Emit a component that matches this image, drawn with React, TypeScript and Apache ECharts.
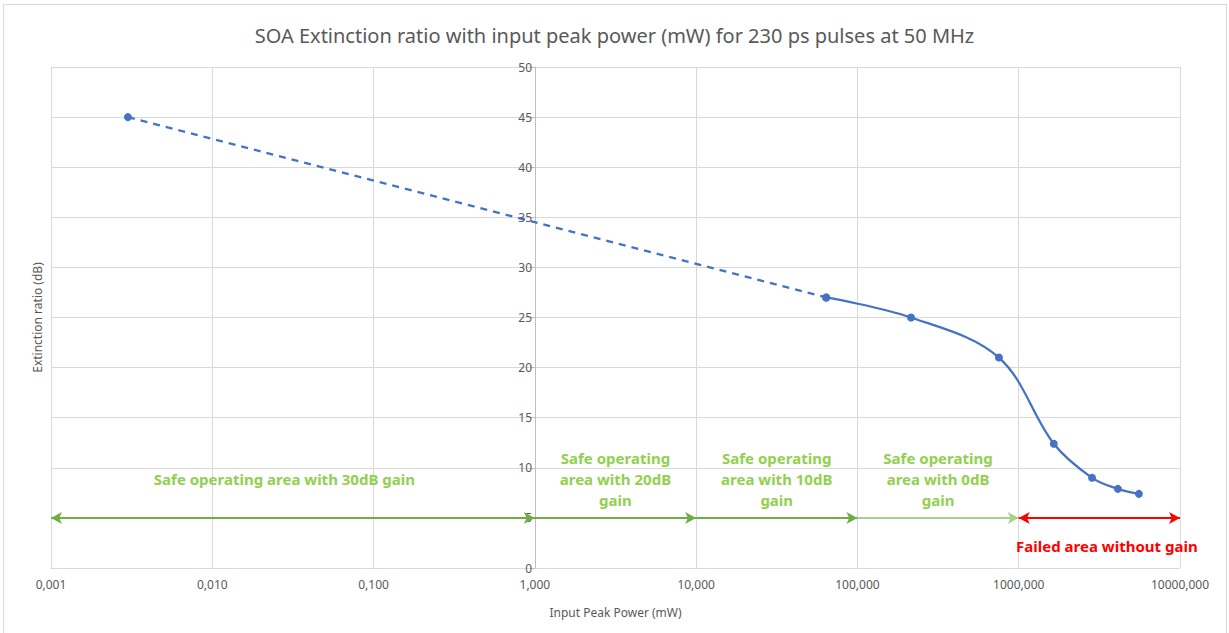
import React, { useEffect, useRef } from "react";
import * as echarts from "echarts";

const dashedX = [0.003, 64];
const dashedY = [45, 27];
const solidX = [64, 215, 754, 1650, 2850, 4120, 5560];
const solidY = [27, 25, 21, 12.4, 9.0, 7.9, 7.4];

const xTicks = [0.001, 0.01, 0.1, 1, 10, 100, 1000, 10000];

const zoneStart = [0.001, 1, 10, 100, 1000];
const zoneEnd = [1, 10, 100, 1000, 10000];
const zoneLevel = [5, 5, 5, 5, 5];
const zoneLabels = [
  "Safe operating area with 30dB gain",
  "Safe operating\narea with 20dB\ngain",
  "Safe operating\narea with 10dB\ngain",
  "Safe operating\narea with 0dB\ngain",
  "Failed area without gain",
];
const zoneLabelX = [0.028, 3.16, 31.6, 316, 3520];
const zoneLabelY = [8.9, 8.9, 8.9, 8.9, 2.2];

const FONT = '"Noto Sans", "Open Sans", sans-serif';

export default function App() {
  const ref = useRef<HTMLDivElement>(null);
  useEffect(() => {
    if (!ref.current) return;
    const chart = echarts.init(ref.current, null, { renderer: "svg" });
    const green = "#70AD47";
    const zoneColors = [green, green, green, "#A9D18E", "#FF0000"];
    const zoneSymbols = [
      ["arrow", "arrow"],
      ["none", "arrow"],
      ["none", "arrow"],
      ["none", "arrow"],
      ["arrow", "arrow"],
    ];
    const markLineData = zoneStart.map((s, i) => [
      {
        coord: [s, zoneLevel[i]],
        symbol: zoneSymbols[i][0],
        lineStyle: { color: zoneColors[i], width: 2, type: "solid" },
      },
      { coord: [zoneEnd[i], zoneLevel[i]], symbol: zoneSymbols[i][1] },
    ]);
    const markPointData = zoneLabels.map((t, i) => ({
      coord: [zoneLabelX[i], zoneLabelY[i]],
      symbol: "circle",
      symbolSize: 0,
      label: {
        show: true,
        formatter: t,
        position: "inside",
        color: i === 4 ? "#FF0000" : "#92D050",
        fontSize: i === 4 ? 15 : 15,
        fontWeight: "bold",
        fontFamily: FONT,
        lineHeight: 21,
        align: "center",
        verticalAlign: "middle",
      },
    }));
    chart.setOption({
      animation: false,
      textStyle: { fontFamily: FONT },
      title: {
        text: "SOA Extinction ratio with input peak power (mW) for 230 ps pulses at 50 MHz",
        left: "center",
        top: 20,
        textStyle: { color: "#595959", fontSize: 20, fontWeight: "normal", fontFamily: FONT },
      },
      grid: { left: 51, right: 49, top: 67, bottom: 65 },
      xAxis: {
        type: "log",
        logBase: 10,
        min: xTicks[0],
        max: xTicks[xTicks.length - 1],
        name: "Input Peak Power (mW)",
        nameLocation: "middle",
        nameGap: 38,
        nameTextStyle: { color: "#595959", fontSize: 12, fontFamily: FONT },
        axisLine: { show: true, lineStyle: { color: "#d9d9d9", width: 1 } },
        axisTick: { show: false },
        axisLabel: {
          color: "#595959",
          fontSize: 12,
          margin: 10,
          formatter: (v: number) => v.toFixed(3).replace(".", ","),
        },
        splitLine: { show: true, lineStyle: { color: "#d9d9d9", width: 1 } },
      },
      yAxis: [
        {
          type: "value",
          min: 0,
          max: 50,
          interval: 5,
          position: "left",
          offset: -484,
          axisLine: { show: true, lineStyle: { color: "#bfbfbf", width: 1 } },
          axisTick: { show: true, length: 5, lineStyle: { color: "#bfbfbf" } },
          axisLabel: { color: "#595959", fontSize: 12, margin: 3 },
          splitLine: { show: true, lineStyle: { color: "#d9d9d9", width: 1 } },
        },
        {
          type: "value",
          min: 0,
          max: 50,
          position: "left",
          name: "Extinction ratio (dB)",
          nameLocation: "middle",
          nameGap: 8,
          nameTextStyle: { color: "#595959", fontSize: 12, fontFamily: FONT },
          axisLine: { show: false },
          axisTick: { show: false },
          axisLabel: { show: false },
          splitLine: { show: false },
        },
      ],
      series: [
        {
          type: "line",
          data: dashedX.map((x, i) => [x, dashedY[i]]),
          lineStyle: { color: "#4472C4", width: 2.25, type: [7, 6] },
          itemStyle: { color: "#4472C4" },
          symbol: "circle",
          symbolSize: 8,
          z: 3,
          markLine: {
            silent: true,
            symbolSize: [9, 11],
            label: { show: false },
            data: markLineData,
          },
          markPoint: { silent: true, data: markPointData },
        },
        {
          type: "line",
          data: solidX.map((x, i) => [x, solidY[i]]),
          smooth: 0.35,
          lineStyle: { color: "#4472C4", width: 2.25 },
          itemStyle: { color: "#4472C4" },
          symbol: "circle",
          symbolSize: 8,
          z: 3,
        },
      ],
    });
    return () => chart.dispose();
  }, []);
  return (
    <div style={{ position: "absolute", left: 0, top: 0, width: 1229, height: 633, background: "#fff" }}>
      <div ref={ref} style={{ position: "absolute", left: 0, top: 0, width: 1229, height: 633 }} />
      <div
        style={{
          position: "absolute",
          left: 3,
          top: 4,
          width: 1222,
          height: 640,
          border: "1px solid #d9d9d9",
          pointerEvents: "none",
        }}
      />
    </div>
  );
}
